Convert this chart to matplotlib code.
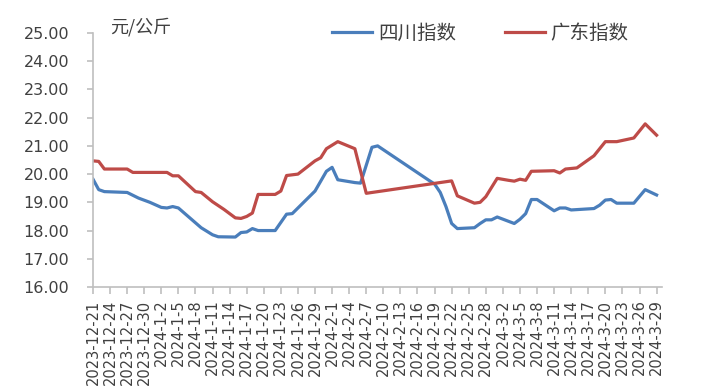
import matplotlib
matplotlib.use("Agg")
import matplotlib.pyplot as plt
import pandas as pd

plt.rcParams['font.family'] = ['DejaVu Sans', 'Noto Sans CJK SC']

start = "2023-12-21"
end = "2024-03-29"

# 四川指数: (day offset from 2023-12-21, value)
sc_days = [0, 1, 2, 6, 8, 10, 12, 13, 14, 15, 17, 19, 21, 22, 25, 26, 27, 28, 29, 32,
           34, 35, 37, 39, 41, 42, 43, 46, 47, 49, 50, 59, 60, 61, 62, 63, 64, 67, 68, 69, 70,
           71, 74, 75, 76, 77, 78, 81, 82, 83, 84, 88, 89, 90, 91, 92, 95, 97, 99]
sc_vals = [19.82, 19.45, 19.38, 19.35, 19.15, 19.00, 18.82, 18.80, 18.85, 18.80, 18.45, 18.10, 17.85, 17.78, 17.77, 17.93, 17.95, 18.07, 18.00, 18.00,
           18.58, 18.60, 19.00, 19.40, 20.10, 20.24, 19.80, 19.70, 19.68, 20.95, 21.00, 19.78, 19.65, 19.35, 18.85, 18.25, 18.07, 18.10, 18.25, 18.38, 18.38,
           18.48, 18.25, 18.40, 18.60, 19.10, 19.10, 18.70, 18.80, 18.80, 18.73, 18.78, 18.90, 19.08, 19.10, 18.97, 18.97, 19.45, 19.26]

# 广东指数
gd_days = [0, 1, 2, 6, 7, 13, 14, 15, 18, 19, 21, 23, 25, 26, 27, 28, 29, 32, 33, 34,
           36, 39, 40, 41, 43, 46, 48, 63, 64, 67, 68, 69, 71, 73, 74, 75, 76, 77, 81, 82,
           83, 85, 88, 90, 92, 95, 97, 99]
gd_vals = [20.47, 20.45, 20.18, 20.18, 20.06, 20.06, 19.94, 19.94, 19.38, 19.35, 19.02, 18.75, 18.45, 18.43, 18.50, 18.62, 19.28, 19.28, 19.40, 19.95,
           20.00, 20.47, 20.58, 20.90, 21.15, 20.90, 19.32, 19.76, 19.23, 18.97, 19.00, 19.20, 19.85, 19.78, 19.75, 19.82, 19.78, 20.10, 20.12, 20.04,
           20.18, 20.22, 20.65, 21.15, 21.15, 21.28, 21.78, 21.38]

series_names = ["四川指数", "广东指数"]
colors = ["#4A7EBB", "#BE4B48"]
y_ticks = [16, 17, 18, 19, 20, 21, 22, 23, 24, 25]
unit_label = "元/公斤"

base = pd.Timestamp(start)
sc_dates = [base + pd.Timedelta(days=d) for d in sc_days]
gd_dates = [base + pd.Timedelta(days=d) for d in gd_days]
tick_dates = pd.date_range(start, end, freq="3D")
tick_labels = [f"{d.year}-{d.month}-{d.day}" for d in tick_dates]

fig = plt.figure(figsize=(7.23, 3.90), dpi=100)
ax = fig.add_axes([93/723, 1-287/390, 569/723, (287-33)/390])

ax.plot(sc_dates, sc_vals, color=colors[0], lw=2.3, solid_joinstyle='round', label=series_names[0])
ax.plot(gd_dates, gd_vals, color=colors[1], lw=2.3, solid_joinstyle='round', label=series_names[1])

ax.set_ylim(16, 25)
ax.set_yticks(y_ticks)
ax.set_yticklabels([f"{v:.2f}" for v in y_ticks], fontsize=11.5, color="#404040")
ax.set_xlim(base, pd.Timestamp(end) + pd.Timedelta(days=0.95))
ax.set_xticks(tick_dates)
ax.set_xticklabels(tick_labels, rotation=90, fontsize=10.5, color="#404040", va='top', ha='center')

for s in ['top', 'right']:
    ax.spines[s].set_visible(False)
for s in ['left', 'bottom']:
    ax.spines[s].set_color("#BFBFBF")
    ax.spines[s].set_linewidth(1.2)
ax.tick_params(axis='y', length=4, color="#BFBFBF", width=1.2, pad=13)
ax.tick_params(axis='x', length=5, color="#BFBFBF", width=1.2, pad=4)

fig.text(110/723, 1-27/390, unit_label, fontsize=13, color="#404040",
         family=['Noto Sans CJK SC'], va='center', ha='left')

leg = fig.legend(loc='center left', bbox_to_anchor=(332/723, 1-33/390), ncol=2,
                 frameon=False, handlelength=2.06, columnspacing=2.5, handletextpad=0.3,
                 borderpad=0, borderaxespad=0,
                 prop={'family': ['Noto Sans CJK SC'], 'size': 14})
for t in leg.get_texts():
    t.set_color("#404040")

fig.savefig("out.png", dpi=100)
